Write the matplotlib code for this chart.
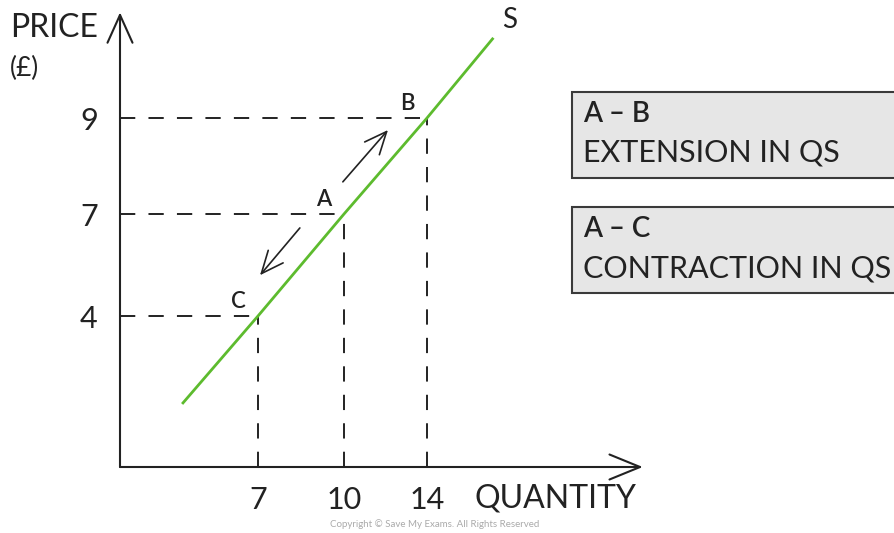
import numpy as np
import matplotlib
matplotlib.use("Agg")
import matplotlib.pyplot as plt
from matplotlib.scale import FuncScale
from matplotlib.patches import Rectangle

plt.rcParams['font.family'] = ['Lato', 'DejaVu Sans']
plt.rcParams['lines.scale_dashes'] = False

# points on the supply curve
point_labels = ['C', 'A', 'B']
point_qty = [7, 10, 14]
point_price = [4, 7, 9]

# supply curve S, drawn past the marked points
supply_qty = [3.15, 7, 10, 14, 17.2]
supply_price = [1.67, 4, 7, 9, 10.67]

# movement arrows along S (A -> B, A -> C)
move_from = [(9.96, 7.67), (8.46, 6.59)]
move_to = [(12.12, 8.75), (7.07, 5.20)]

box_titles = ['A \u2013 B', 'A \u2013 C']
box_texts = ['EXTENSION IN QS', 'CONTRACTION IN QS']

INK = '#222222'
GREEN = '#5dbb2e'


def piecewise(vals, pos):
    # stylised diagram: axes are not evenly spaced, map values piecewise
    vals = np.asarray(vals, float)
    pos = np.asarray(pos, float)

    def interp(v, a, b):
        v = np.asarray(v, float)
        out = np.interp(v, a, b)
        lo_slope = (b[1] - b[0]) / (a[1] - a[0])
        hi_slope = (b[-1] - b[-2]) / (a[-1] - a[-2])
        out = np.where(v < a[0], b[0] + (v - a[0]) * lo_slope, out)
        out = np.where(v > a[-1], b[-1] + (v - a[-1]) * hi_slope, out)
        return out

    return (lambda v: interp(v, vals, pos)), (lambda p: interp(p, pos, vals))


fx, fx_inv = piecewise([0, 7, 10, 14], [120, 258, 344, 427])
fy, fy_inv = piecewise([0, 4, 7, 9], [66, 217, 319, 415])

fig = plt.figure(figsize=(8.94, 5.33), dpi=100)
ax = fig.add_axes([0, 0, 1, 1])
ax.set_xscale(FuncScale(ax, (fx, fx_inv)))
ax.set_yscale(FuncScale(ax, (fy, fy_inv)))
ax.set_xlim(float(fx_inv(0)), float(fx_inv(894)))
ax.set_ylim(float(fy_inv(0)), float(fy_inv(533)))
ax.spines['bottom'].set_position(('data', 0))
ax.spines['left'].set_position(('data', 0))
for sp in ax.spines.values():
    sp.set_visible(False)

# axes with open arrow heads
x_end, y_end = 24.4, 11.2
ax.annotate('', xy=(x_end, 0), xytext=(0, 0),
            arrowprops=dict(arrowstyle='->,head_length=1.1,head_width=0.45',
                            mutation_scale=20, lw=1.5, color=INK,
                            shrinkA=0, shrinkB=0))
ax.annotate('', xy=(0, y_end), xytext=(0, 0),
            arrowprops=dict(arrowstyle='->,head_length=1.0,head_width=0.45',
                            mutation_scale=20, lw=1.5, color=INK,
                            shrinkA=0, shrinkB=0))

# dashed guides from the axes to each point
for q, p in zip(point_qty, point_price):
    ax.plot([0, q], [p, p], color=INK, lw=1.4, dashes=(11, 9.5))
    ax.plot([q, q], [0, p], color=INK, lw=1.4, dashes=(11, 9.5))

ax.plot(supply_qty, supply_price, color=GREEN, lw=2.0, solid_capstyle='butt')

for (q0, p0), (q1, p1) in zip(move_from, move_to):
    ax.annotate('', xy=(q1, p1), xytext=(q0, p0),
                arrowprops=dict(arrowstyle='->,head_length=0.8,head_width=0.35',
                                mutation_scale=20, lw=1.2, color=INK,
                                shrinkA=0, shrinkB=0))

for lab, q, p in zip(point_labels, point_qty, point_price):
    ax.annotate(lab, xy=(q, p), xytext=(-20, 15), textcoords='offset pixels',
                ha='center', va='center', fontsize=16, fontweight='semibold',
                color=INK)

ax.annotate('S', xy=(supply_qty[-1], supply_price[-1]), xytext=(16, 18),
            textcoords='offset pixels', ha='center', va='center',
            fontsize=20, color=INK)

ax.set_xticks(point_qty, [str(v) for v in point_qty])
ax.set_yticks(point_price, [str(v) for v in point_price])
ax.tick_params(length=0, labelsize=22, colors=INK)
ax.tick_params(axis='x', pad=14)
ax.tick_params(axis='y', pad=16)

fig.text(475 / 894, 1 - 498 / 533, 'QUANTITY', fontsize=23, color=INK,
         ha='left', va='center')
fig.text(10 / 894, 1 - 28 / 533, 'PRICE', fontsize=23, color=INK,
         ha='left', va='center')
fig.text(10 / 894, 1 - 68 / 533, '(\u00a3)', fontsize=19, color=INK,
         ha='left', va='center')

# explanation boxes on the right
box_tops = [92, 207]
for top, title, body in zip(box_tops, box_titles, box_texts):
    fig.add_artist(Rectangle((572 / 894, 1 - (top + 86) / 533), 0.4, 86 / 533,
                             transform=fig.transFigure, facecolor='#e6e6e6',
                             edgecolor='#3a3a3a', lw=1.5))
    fig.text(583 / 894, 1 - (top + 22) / 533, title, fontsize=20,
             fontweight='semibold', color=INK, ha='left', va='center')
    fig.text(583 / 894, 1 - (top + 61) / 533, body, fontsize=22,
             color=INK, ha='left', va='center')

fig.text(435 / 894, 1 - 524 / 533,
         'Copyright \u00a9 Save My Exams. All Rights Reserved',
         fontsize=7, color='#aaaaaa', ha='center', va='center')

fig.savefig('out.png', dpi=100)
